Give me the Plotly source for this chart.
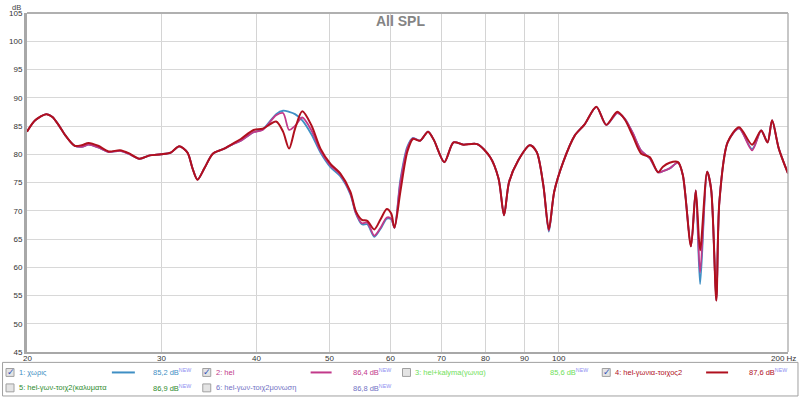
import math
import plotly.graph_objects as go

# ---------------- data ----------------
freq = [20, 20.5, 21.2, 21.6, 22.0, 22.5, 23.1, 23.6, 24.1, 24.8, 25.6, 26.5, 27.2, 28.1, 29.0,
        30.0, 30.9, 31.7, 32.5, 33.0, 33.5, 34.2, 35.1, 36.2, 37.2, 38.2, 39.7, 40.8, 42.5, 43.4,
        44.2, 45.0, 46.0, 47.3, 48.6, 50.1, 51.6, 53.2, 54.1, 55.1, 56.0, 57.2, 58.3, 59.4, 60.2,
        60.8, 61.9, 63.2, 64.3, 65.7, 67.3, 68.5, 70.7, 72.7, 74.9, 78.1, 81.2, 83.3, 84.7, 86.0,
        88.4, 91.6, 93.5, 95.4, 97.0, 98.6, 101.3, 104.9, 108.1, 112.0, 115.4, 119.3, 122, 125,
        128.3, 131.6, 135.0, 137.0, 139.8, 143.4, 145.5, 149.1, 151.3, 153.3, 156.6, 158.5, 161.0,
        162.5, 166.6, 172.5, 179.4, 184.4, 188, 190.6, 194.5, 200]

s1 = [84.0, 86.0, 87.1, 86.6, 85.2, 83.2, 81.5, 81.3, 81.7, 81.2, 80.4, 80.6, 80.1, 79.2, 79.8,
      80.0, 80.3, 81.4, 80.3, 77.5, 75.5, 77.5, 80.1, 80.9, 81.7, 82.4, 83.9, 84.4, 87.1, 87.7,
      87.5, 87.1, 86.0, 83.5, 80.3, 77.7, 76.1, 72.9, 69.5, 67.6, 67.6, 65.4, 66.8, 68.6, 68.5,
      67.0, 75.5, 81.3, 82.9, 82.4, 84.0, 82.5, 78.6, 82.1, 81.7, 81.8, 79.5, 75.7, 69.2, 75.1,
      78.9, 81.6, 80.4, 74.5, 66.3, 73.4, 78.6, 83.3, 85.3, 88.4, 85.2, 87.3, 86.3, 83.8,
      80.6, 79.3, 76.8, 77.0, 77.5, 78.5, 76.3, 63.7, 73.6, 57.0, 76.9, 73.8, 54.1,
      71.6, 82.1, 84.6, 80.9, 84.2, 82.1, 86.0, 81.0, 76.6]

s2 = [84.0, 86.0, 87.1, 86.6, 85.2, 83.2, 81.5, 81.3, 81.7, 81.2, 80.4, 80.6, 80.1, 79.2, 79.8,
      80.0, 80.3, 81.4, 80.3, 77.5, 75.5, 77.5, 80.1, 80.9, 81.7, 82.4, 83.9, 84.3, 86.9, 87.3,
      84.3, 85.0, 86.5, 84.2, 80.6, 78.0, 76.4, 73.1, 69.6, 67.8, 67.9, 65.6, 67.0, 68.8, 68.6,
      67.0, 75.0, 81.0, 82.8, 82.4, 84.0, 82.5, 78.6, 82.1, 81.7, 81.8, 79.5, 75.7, 69.2, 75.1,
      78.9, 81.6, 80.4, 74.5, 66.5, 73.4, 78.6, 83.3, 85.3, 88.4, 85.2, 87.3, 86.3, 83.8,
      80.6, 79.3, 76.8, 77.0, 77.5, 78.5, 76.3, 63.7, 73.6, 59.1, 76.9, 73.8, 54.1,
      71.6, 82.1, 84.6, 80.7, 84.2, 82.1, 86.0, 81.0, 76.6]

s4 = [84.0, 86.0, 87.1, 86.6, 85.2, 83.2, 81.5, 81.6, 82.0, 81.5, 80.5, 80.7, 80.2, 79.2, 79.8,
      80.0, 80.3, 81.4, 80.3, 77.5, 75.5, 77.5, 80.1, 80.9, 81.8, 82.7, 84.3, 84.5, 85.8, 84.0,
      81.0, 84.5, 87.6, 85.1, 81.0, 78.3, 76.6, 73.4, 69.9, 68.4, 68.2, 66.7, 68.5, 70.3, 69.5,
      67.0, 73.4, 80.4, 82.7, 82.4, 84.0, 82.5, 78.6, 82.1, 81.7, 81.8, 79.5, 75.7, 69.2, 75.1,
      78.9, 81.6, 80.4, 74.5, 66.7, 73.4, 78.6, 83.3, 85.3, 88.4, 85.2, 87.5, 86.2, 83.3,
      80.1, 79.5, 76.8, 77.8, 78.5, 78.6, 76.3, 63.7, 73.6, 63.0, 76.9, 73.8, 54.1,
      71.6, 82.1, 84.8, 81.7, 84.2, 82.1, 86.0, 81.0, 76.6]

x_ticks = [20, 30, 40, 50, 60, 70, 80, 90, 100, 200]
x_tick_text = ["20", "30", "40", "50", "60", "70", "80", "90", "100", "200 Hz"]
y_ticks = [45, 50, 55, 60, 65, 70, 75, 80, 85, 90, 95, 100, 105]

legend_names = ["1: χωρις", "2: hel", "3: hel+kalyma(γωνια)", "4: hel-γωνια-τοιχος2",
                "5: hel-γων-τοιχ2(καλυματα", "6: hel-γων-τοιχ2μονωση"]
legend_values = ["85,2 dB", "86,4 dB", "85,6 dB", "87,6 dB", "86,9 dB", "86,8 dB"]
legend_checked = [True, True, False, True, False, False]
legend_colors = ["#3f8fc4", "#c2398a", "#6fe05a", "#b0101e", "#2e8b2e", "#7272c4"]

# ---------------- layout geometry ----------------
W_FIG, H_FIG = 800, 398
ML, MR, MT, MB = 26, 12, 9, 46
PW = W_FIG - ML - MR
PH = H_FIG - MT - MB
FONT = "Liberation Sans, Arial, sans-serif"
X_RANGE = [math.log10(20) - 1e-9, math.log10(200) + 1e-9]


def px(x):
    return (x - ML) / PW


def py(y):
    return (MT + PH - y) / PH


fig = go.Figure()
for vals, col, w in [(s1, legend_colors[0], 1.8), (s2, legend_colors[1], 1.8), (s4, legend_colors[3], 2.0)]:
    fig.add_trace(go.Scatter(x=freq, y=vals, mode="lines",
                             line=dict(color=col, width=w, shape="spline", smoothing=0.8),
                             hoverinfo="skip", showlegend=False))

shapes = []
annotations = []

# right border and top line
shapes.append(dict(type="line", xref="paper", yref="paper", x0=1, x1=1, y0=0, y1=1,
                   line=dict(color="#b4b4b4", width=1.5)))
shapes.append(dict(type="line", xref="paper", yref="paper", x0=0, x1=1, y0=1, y1=1,
                   line=dict(color="#b0b0b0", width=2)))

# x tick labels placed on the axis scale, just below the axis line
for v, t in zip(x_ticks, x_tick_text):
    last = (v == x_ticks[-1])
    annotations.append(dict(x=math.log10(v), xref="x", y=py(358.5), yref="paper", text=t,
                            showarrow=False, font=dict(family=FONT, size=8, color="#333"),
                            xanchor="right" if last else "center", yanchor="middle",
                            xshift=10 if last else 0))

# legend box
shapes.append(dict(type="rect", xref="paper", yref="paper", x0=px(1.5), x1=px(798), y0=py(396.5), y1=py(362.5),
                   line=dict(color="#a0a0a0", width=1), fillcolor="white", layer="above"))

rows_y = [372.7, 388.3]
col_x = [5, 202, 402, 602]
slots = [(0, 0), (0, 1), (0, 2), (0, 3), (1, 0), (1, 1)]
line_x = {0: (111, 134), 1: (310, 331), 3: (706, 728)}
val_x = [150, 350, 548, 747]

for i, (r, c) in enumerate(slots):
    yy = rows_y[r]
    cx = col_x[c]
    shapes.append(dict(type="rect", xref="paper", yref="paper", x0=px(cx), x1=px(cx + 8),
                       y0=py(yy + 4), y1=py(yy - 4), line=dict(color="#a0a0a0", width=1),
                       fillcolor="#e4e4e4", layer="above"))
    if legend_checked[i]:
        annotations.append(dict(x=px(cx + 4.5), y=py(yy), xref="paper", yref="paper", text="✓",
                                showarrow=False, font=dict(family="DejaVu Sans", size=9, color="#3050b8"),
                                xanchor="center", yanchor="middle"))
    annotations.append(dict(x=px(cx + 11), y=py(yy), xref="paper", yref="paper", text=legend_names[i],
                            showarrow=False, font=dict(family=FONT, size=7.5, color=legend_colors[i]),
                            xanchor="left", yanchor="middle"))
    if i in line_x:
        x0, x1 = line_x[i]
        shapes.append(dict(type="line", xref="paper", yref="paper", x0=px(x0), x1=px(x1), y0=py(yy), y1=py(yy),
                           line=dict(color=legend_colors[i], width=2), layer="above"))
    annotations.append(dict(x=px(val_x[c]), y=py(yy), xref="paper", yref="paper",
                            text=legend_values[i] + "<sup><span style='color:#8c8cf0'>NEW</span></sup>",
                            showarrow=False, font=dict(family=FONT, size=7.5, color=legend_colors[i]),
                            xanchor="left", yanchor="middle"))

# title and unit label
annotations.append(dict(x=px(400), y=py(17), xref="paper", yref="paper", text="<b>All SPL</b>",
                        showarrow=False, font=dict(family=FONT, size=14, color="#848484"),
                        xanchor="center", yanchor="middle"))
annotations.append(dict(x=px(15), y=py(3), xref="paper", yref="paper", text="dB",
                        showarrow=False, font=dict(family=FONT, size=7.5, color="#444"),
                        xanchor="center", yanchor="middle"))

fig.update_layout(
    width=W_FIG, height=H_FIG,
    margin=dict(l=ML, r=MR, t=MT, b=MB),
    paper_bgcolor="white", plot_bgcolor="white",
    showlegend=False,
    shapes=shapes, annotations=annotations,
    xaxis=dict(type="log", range=X_RANGE, tickvals=x_ticks, showticklabels=False,
               showgrid=True, gridcolor="#d4d4d4", gridwidth=1, zeroline=False,
               showline=True, linecolor="#a8a8a8", linewidth=2, ticks="", ticklen=0),
    yaxis=dict(range=[45, 105], tickvals=y_ticks, showgrid=True, gridcolor="#d8d8d8", gridwidth=1,
               zeroline=False, showline=True, linecolor="#a8a8a8", linewidth=3, ticks="", ticklen=0,
               tickfont=dict(family=FONT, size=8, color="#333")),
    font=dict(family=FONT),
)

fig.write_html("out.html", config={"displayModeBar": False},
               post_script="document.body.style.margin='0';document.body.style.overflow='hidden';")
